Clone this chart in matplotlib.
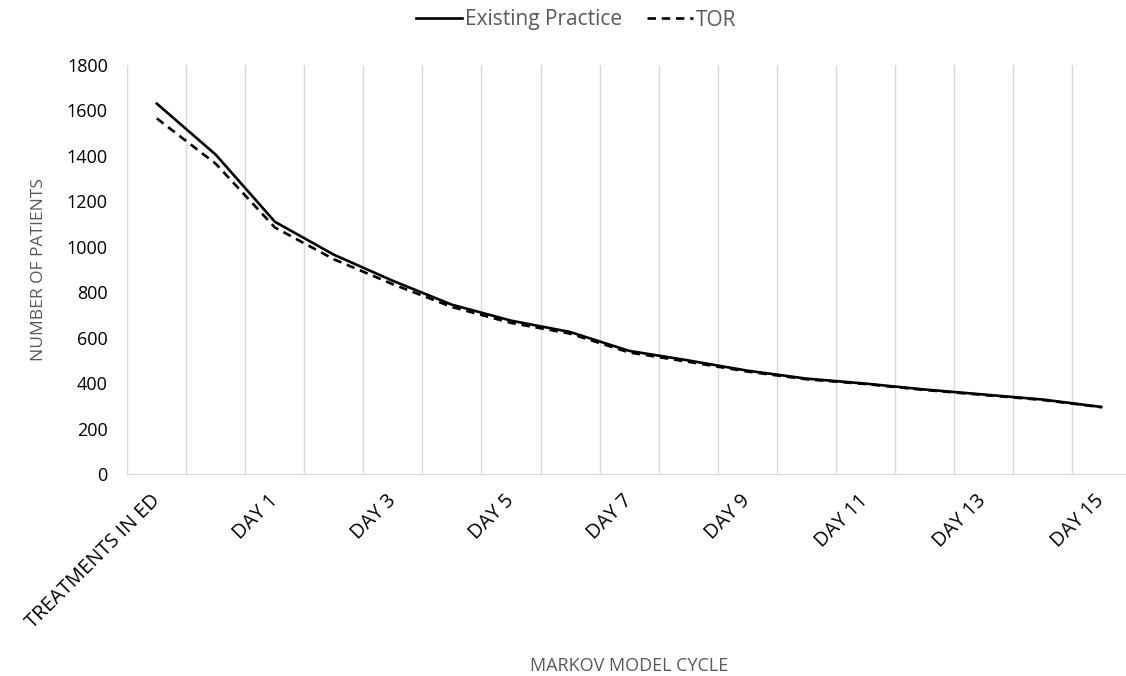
import matplotlib.pyplot as plt
from matplotlib.lines import Line2D
from matplotlib.transforms import ScaledTranslation

plt.rcParams['font.family'] = ['Open Sans', 'DejaVu Sans']

# Markov model cycles (categories on the x axis)
cycles = ['TREATMENTS IN ED'] + ['DAY %d' % d for d in range(0, 16)]

# Number of patients per cycle
existing_practice = [1630, 1405, 1110, 965, 850, 745, 675, 625, 542,
                     500, 455, 420, 398, 372, 350, 328, 295]
tor = [1565, 1365, 1085, 945, 835, 735, 665, 618, 535,
       494, 451, 417, 396, 370, 348, 326, 294]

fig = plt.figure(figsize=(11.26, 6.76), dpi=100)
ax = fig.add_axes([127.3 / 1126, 1 - 474 / 676, 1003.5 / 1126, 409 / 676])

x = list(range(len(cycles)))
ax.plot(x, existing_practice, color='black', lw=1.9, solid_joinstyle='miter')
ax.plot(x, tor, color='black', lw=1.9, ls=(0, (3.2, 2.2)))

ax.set_xlim(-0.5, len(cycles) - 0.5)
ax.set_ylim(0, 1800)
ax.set_yticks(range(0, 1801, 200))

# vertical gridlines between categories
for b in range(len(cycles) + 1):
    ax.axvline(b - 0.5, color='#d9d9d9', lw=1.0, zorder=0)

ax.tick_params(axis='x', length=0, pad=12)
ax.tick_params(axis='y', length=0, pad=14, labelsize=13, labelcolor='black')
ax.set_xticks(x[::2])
ax.set_xticklabels(cycles[::2], rotation=45, ha='right', va='top',
                   rotation_mode='anchor', fontsize=14.3, color='black')
# nudge the slanted labels to the left
shift = ScaledTranslation(-7 / 100, 0, fig.dpi_scale_trans)
for lbl in ax.get_xticklabels():
    lbl.set_transform(lbl.get_transform() + shift)

for side in ['top', 'right', 'left']:
    ax.spines[side].set_visible(False)
ax.spines['bottom'].set_color('#d9d9d9')

ax.set_ylabel('NUMBER OF PATIENTS', fontsize=12.5, color='#595959', labelpad=14)
fig.text(629 / 1126, 1 - 666 / 676, 'MARKOV MODEL CYCLE', fontsize=13,
         color='#595959', ha='center', va='center')

handles = [Line2D([], [], color='black', lw=1.9),
           Line2D([], [], color='black', lw=1.9, ls=(0, (3.2, 2.2)))]
fig.legend(handles, ['Existing Practice', 'TOR'], loc='center',
           bbox_to_anchor=(576 / 1126, 1 - 20 / 676), ncol=2, frameon=False,
           fontsize=15, labelcolor='#595959', handlelength=2.2,
           handletextpad=0.15, columnspacing=1.2)

fig.savefig('out.png', dpi=100)
